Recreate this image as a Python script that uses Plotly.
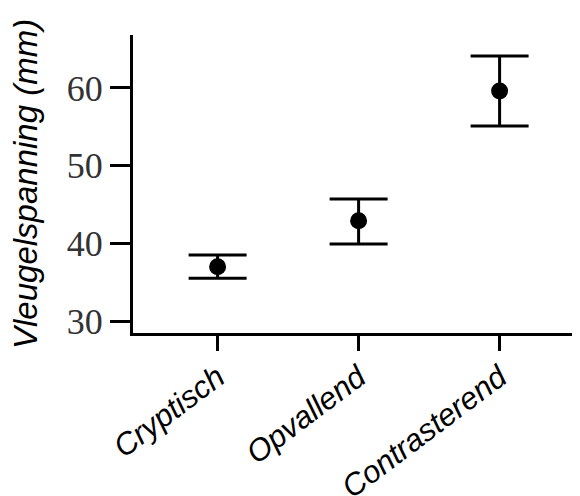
import plotly.graph_objects as go

categories = ["Cryptisch", "Opvallend", "Contrasterend"]
means = [37.0, 42.9, 59.6]
upper = [38.5, 45.7, 64.1]
lower = [35.5, 39.9, 55.1]
y_ticks = [30, 40, 50, 60]

err_plus = [u - m for u, m in zip(upper, means)]
err_minus = [m - l for m, l in zip(means, lower)]

# page body has an 8px default margin; compensate in figure margins
L, T, R, B = 125, 27, 0, 171
plot_w = 580 - L - R

fig = go.Figure()
fig.add_trace(go.Scatter(
    x=categories, y=means, mode="markers",
    marker=dict(color="black", size=17, symbol="circle"),
    error_y=dict(type="data", symmetric=False, array=err_plus, arrayminus=err_minus,
                 color="black", thickness=3, width=29),
    showlegend=False,
))

fig.update_layout(
    width=580, height=496,
    margin=dict(l=L, r=R, t=T, b=B),
    paper_bgcolor="white", plot_bgcolor="white",
    xaxis=dict(
        type="category", range=[-0.6, -0.6 + plot_w / 141], automargin=False,
        showline=True, linecolor="black", linewidth=3,
        ticks="outside", ticklen=15, tickwidth=3, tickcolor="black",
        showgrid=False, zeroline=False,
        tickangle=-37, ticklabelstandoff=-4,
        tickfont=dict(family="Liberation Sans", size=31, color="black", style="italic"),
    ),
    yaxis=dict(
        range=[28.46, 66.81], automargin=False,
        tickvals=y_ticks, ticktext=[str(v) for v in y_ticks],
        showline=True, linecolor="black", linewidth=3,
        ticks="outside", ticklen=20, tickwidth=3, tickcolor="black",
        showgrid=False, zeroline=False,
        tickfont=dict(family="Liberation Serif", size=36, color="#333"),
    ),
    annotations=[dict(
        text="Vleugelspanning (mm)", textangle=-90,
        xref="paper", yref="paper", x=(17 - L) / plot_w, y=0.5,
        xanchor="center", yanchor="middle", showarrow=False,
        font=dict(family="Liberation Sans", size=33, color="black", style="italic"),
    )],
)

fig.write_html("out.html")
